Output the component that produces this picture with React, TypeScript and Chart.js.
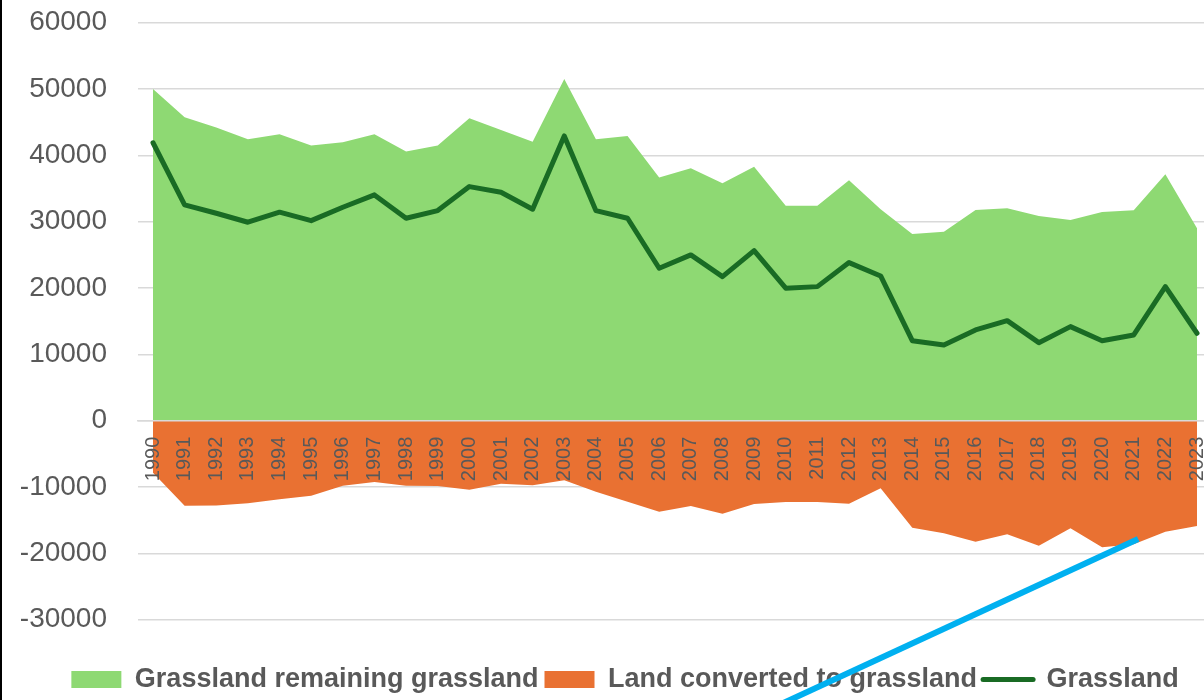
import React, { useEffect, useRef } from 'react';
import { Chart, registerables } from 'chart.js';

Chart.register(...registerables);

const categories = [
  '1990', '1991', '1992', '1993', '1994', '1995', '1996', '1997', '1998', '1999',
  '2000', '2001', '2002', '2003', '2004', '2005', '2006', '2007', '2008', '2009',
  '2010', '2011', '2012', '2013', '2014', '2015', '2016', '2017', '2018', '2019',
  '2020', '2021', '2022', '2023',
];

const yTickValues = [-30000, -20000, -10000, 0, 10000, 20000, 30000, 40000, 50000, 60000];

const seriesNames = ['Grassland remaining grassland', 'Land converted to grassland', 'Grassland'];

const remaining = [
  50000, 45750, 44190, 42430, 43190, 41470, 41980, 43190, 40570, 41470,
  45600, 43840, 42070, 51530, 42430, 42930, 36650, 38060, 35800, 38300,
  32420, 32420, 36250, 31880, 28150, 28500, 31770, 32030, 30870, 30270,
  31470, 31730, 37160, 29010,
];

const converted = [
  -7840, -12820, -12800, -12460, -11860, -11310, -9800, -9240, -9800, -9850,
  -10400, -9500, -9750, -8990, -10700, -12210, -13720, -12860, -14020, -12560,
  -12260, -12260, -12510, -10200, -16130, -16980, -18240, -17130, -18850, -16230,
  -19090, -18640, -16740, -15880,
];

const grassland = [
  41900, 32530, 31270, 29920, 31430, 30160, 32180, 34040, 30520, 31670,
  35290, 34440, 31880, 42930, 31670, 30520, 22980, 24990, 21720, 25640,
  19970, 20210, 23830, 21820, 12060, 11420, 13680, 15080, 11760, 14180,
  12060, 12920, 20210, 13180,
];

// annotation arrow (drawn shape) in data coordinates: category index, value
const arrowX = [31.14, 19.5];
const arrowY = [-17840, -43500];

const FONT = "'Liberation Sans', Arial, sans-serif";
const TEXT = '#595959';

const shiftLegend = {
  id: 'shiftLegend',
  afterLayout(chart: any) {
    if (chart.legend) chart.legend.left += 46;
  },
};

export default function App() {
  const ref = useRef<HTMLCanvasElement>(null);

  useEffect(() => {
    if (!ref.current) return;
    const pts = (vals: number[]) => vals.map((v, i) => ({ x: i, y: v }));
    const chart = new Chart(ref.current, {
      type: 'line',
      plugins: [shiftLegend],
      data: {
        datasets: [
          {
            label: seriesNames[0],
            data: pts(remaining),
            fill: 'origin',
            backgroundColor: '#8ED973',
            borderColor: 'rgba(0,0,0,0)',
            borderWidth: 0,
            pointRadius: 0,
            pointHoverRadius: 0,
            pointHitRadius: 0,
            pointStyle: 'rect',
            pointBackgroundColor: '#8ED973',
            pointBorderWidth: 0,
            tension: 0,
            order: 2,
          },
          {
            label: seriesNames[1],
            data: pts(converted),
            fill: 'origin',
            backgroundColor: '#E97132',
            borderColor: 'rgba(0,0,0,0)',
            borderWidth: 0,
            pointRadius: 0,
            pointHoverRadius: 0,
            pointHitRadius: 0,
            pointStyle: 'rect',
            pointBackgroundColor: '#E97132',
            pointBorderWidth: 0,
            tension: 0,
            order: 3,
          },
          {
            label: seriesNames[2],
            data: pts(grassland),
            fill: false,
            borderColor: '#196B24',
            backgroundColor: '#196B24',
            borderWidth: 5,
            borderJoinStyle: 'round',
            borderCapStyle: 'round',
            pointRadius: 0,
            pointHoverRadius: 0,
            pointHitRadius: 0,
            pointStyle: 'line',
            pointBorderColor: '#196B24',
            pointBorderWidth: 5,
            tension: 0,
            order: 1,
          },
          {
            label: 'arrow',
            data: arrowX.map((x, i) => ({ x, y: arrowY[i] })),
            fill: false,
            borderColor: '#00B0F0',
            backgroundColor: '#00B0F0',
            borderWidth: 6,
            borderCapStyle: 'butt',
            pointRadius: 0,
            pointHoverRadius: 0,
            pointHitRadius: 0,
            clip: false,
            order: 0,
          },
        ],
      },
      options: {
        animation: false,
        responsive: false,
        maintainAspectRatio: false,
        events: [],
        layout: { padding: { left: 0, top: 22.7, right: 0, bottom: 0 } },
        plugins: {
          tooltip: { enabled: false },
          legend: {
            position: 'bottom',
            align: 'center',
            labels: {
              usePointStyle: true,
              pointStyleWidth: 50,
              boxHeight: 17,
              padding: 6,
              color: TEXT,
              font: { size: 27, weight: 'bold', family: FONT },
              filter: (item: any) => item.datasetIndex !== 3,
              sort: (a: any, b: any) => a.datasetIndex - b.datasetIndex,
              generateLabels: (c: any) => {
                const items = Chart.defaults.plugins.legend.labels.generateLabels(c);
                items.forEach((it: any) => {
                  if (it.datasetIndex === 2) {
                    it.pointStyle = 'line';
                    it.lineCap = 'round';
                    it.lineWidth = 5;
                    it.strokeStyle = '#196B24';
                  } else {
                    it.lineWidth = 0;
                  }
                });
                return items;
              },
            },
          },
        },
        scales: {
          x: {
            type: 'linear',
            position: { y: 0 },
            min: -0.474,
            max: 33.221,
            z: 1,
            afterBuildTicks: (s: any) => {
              s.ticks = categories.map((_, i) => ({ value: i }));
            },
            ticks: {
              z: 1,
              autoSkip: false,
              minRotation: 90,
              maxRotation: 90,
              padding: 16,
              color: TEXT,
              font: { size: 20, family: FONT },
              callback: (v: any) => categories[v] ?? '',
            },
            grid: { display: false, drawTicks: false },
            border: { display: true, color: '#D9D9D9', width: 1.5, z: 1 },
            afterFit: (s: any) => {
              s.paddingLeft = 0;
              s.paddingRight = 0;
            },
          },
          y: {
            type: 'linear',
            min: -36080,
            max: 60000,
            afterBuildTicks: (s: any) => {
              s.ticks = yTickValues.map((v) => ({ value: v }));
            },
            ticks: {
              padding: 31,
              color: TEXT,
              font: { size: 28, family: FONT },
              callback: (v: any) => String(v),
            },
            grid: { color: '#D9D9D9', lineWidth: 1.5, drawTicks: false },
            border: { display: false },
            afterFit: (s: any) => {
              s.width = 138;
              s.paddingTop = 0;
              s.paddingBottom = 0;
            },
          },
        },
      } as any,
    });
    return () => chart.destroy();
  }, []);

  return (
    <div
      style={{
        position: 'fixed',
        left: 0,
        top: 0,
        width: 1204,
        height: 700,
        overflow: 'hidden',
        background: '#ffffff',
      }}
    >
      <canvas ref={ref} width={1204} height={703} style={{ display: 'block' }} />
      <div
        style={{ position: 'absolute', left: 0, top: 0, width: 2, height: 700, background: '#000' }}
      />
    </div>
  );
}
